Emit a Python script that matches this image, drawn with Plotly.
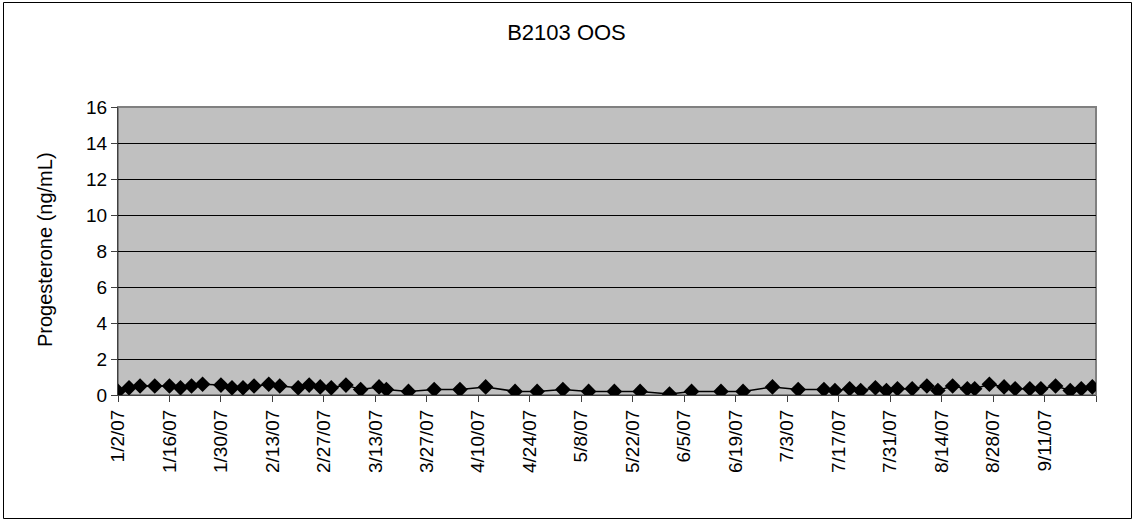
import plotly.graph_objects as go

# Sample dates and progesterone readings (ng/mL)
dates = [
    "2007-01-02", "2007-01-05", "2007-01-08", "2007-01-12", "2007-01-16", "2007-01-19",
    "2007-01-22", "2007-01-25", "2007-01-30", "2007-02-02", "2007-02-05", "2007-02-08",
    "2007-02-12", "2007-02-15", "2007-02-20", "2007-02-23", "2007-02-26", "2007-03-01",
    "2007-03-05", "2007-03-09", "2007-03-14", "2007-03-16", "2007-03-22", "2007-03-29",
    "2007-04-05", "2007-04-12", "2007-04-20", "2007-04-26", "2007-05-03", "2007-05-10",
    "2007-05-17", "2007-05-24", "2007-06-01", "2007-06-07", "2007-06-15", "2007-06-21",
    "2007-06-29", "2007-07-06", "2007-07-13", "2007-07-16", "2007-07-20", "2007-07-23",
    "2007-07-27", "2007-07-30", "2007-08-02", "2007-08-06", "2007-08-10", "2007-08-13",
    "2007-08-17", "2007-08-21", "2007-08-23", "2007-08-27", "2007-08-31", "2007-09-03",
    "2007-09-07", "2007-09-10", "2007-09-14", "2007-09-18", "2007-09-21", "2007-09-24",
]
progesterone = [
    0.2, 0.4, 0.5, 0.5, 0.5, 0.4, 0.5, 0.6, 0.55, 0.4, 0.4, 0.5,
    0.6, 0.5, 0.4, 0.55, 0.45, 0.4, 0.55, 0.3, 0.45, 0.3, 0.2, 0.3,
    0.3, 0.45, 0.2, 0.2, 0.3, 0.2, 0.2, 0.2, 0.05, 0.2, 0.2, 0.2,
    0.45, 0.3, 0.3, 0.25, 0.35, 0.25, 0.4, 0.25, 0.35, 0.35, 0.5, 0.25,
    0.5, 0.35, 0.35, 0.6, 0.45, 0.35, 0.35, 0.35, 0.5, 0.25, 0.35, 0.45,
]

tick_dates = [
    "2007-01-02", "2007-01-16", "2007-01-30", "2007-02-13", "2007-02-27", "2007-03-13",
    "2007-03-27", "2007-04-10", "2007-04-24", "2007-05-08", "2007-05-22", "2007-06-05",
    "2007-06-19", "2007-07-03", "2007-07-17", "2007-07-31", "2007-08-14", "2007-08-28",
    "2007-09-11", "2007-09-25",
]
tick_labels = [
    "1/2/07", "1/16/07", "1/30/07", "2/13/07", "2/27/07", "3/13/07",
    "3/27/07", "4/10/07", "4/24/07", "5/8/07", "5/22/07", "6/5/07",
    "6/19/07", "7/3/07", "7/17/07", "7/31/07", "8/14/07", "8/28/07",
    "9/11/07", "",
]
y_ticks = [0, 2, 4, 6, 8, 10, 12, 14, 16]

W, H = 1133, 521
L, R, T, B = 118, 37, 107, 126
pw, ph = W - L - R, H - T - B


def px(x):
    return (x - L) / pw


def py(y):
    return (H - B - y) / ph


FONT = "Liberation Sans, Arial, sans-serif"

fig = go.Figure()
fig.add_trace(go.Scatter(
    x=dates, y=progesterone, mode="lines+markers",
    line=dict(color="black", width=1.5),
    marker=dict(symbol="diamond", size=12, color="black"),
    showlegend=False,
))

fig.update_layout(
    width=W, height=H,
    margin=dict(l=L, r=R, t=T, b=B),
    paper_bgcolor="white",
    plot_bgcolor="#C0C0C0",
    title=dict(text="B2103 OOS", x=0.5, xref="container", xanchor="center",
               y=1 - 32 / H, yref="container", yanchor="middle",
               font=dict(family=FONT, size=22, color="black")),
    xaxis=dict(
        type="date", range=["2007-01-02", "2007-09-25"],
        tickmode="array", tickvals=tick_dates, ticktext=tick_labels,
        tickangle=-90, ticks="outside", ticklen=6, tickcolor="#404040",
        tickfont=dict(family=FONT, size=19, color="black"),
        showgrid=False, zeroline=False,
        showline=True, linecolor="#404040", linewidth=1,
    ),
    yaxis=dict(
        range=[0, 16], tickmode="array", tickvals=y_ticks,
        ticks="outside", ticklen=6, tickcolor="#404040",
        tickfont=dict(family=FONT, size=19, color="black"),
        showgrid=True, gridcolor="black", gridwidth=1, zeroline=False,
        showline=True, linecolor="#404040", linewidth=1,
    ),
    annotations=[dict(
        text="Progesterone (ng/mL)", textangle=-90,
        x=px(45), y=py(250), xref="paper", yref="paper",
        xanchor="center", yanchor="middle", showarrow=False,
        font=dict(family=FONT, size=20, color="black"),
    )],
    shapes=[
        # plot area frame
        dict(type="rect", xref="paper", yref="paper", x0=0, x1=1, y0=0, y1=1,
             line=dict(color="#808080", width=2), layer="below"),
        # chart area frame
        dict(type="rect", xref="paper", yref="paper",
             x0=px(3.5), x1=px(1131.5), y0=py(518.5), y1=py(2.5),
             line=dict(color="black", width=1)),
    ],
)

fig.write_html("out.html")
